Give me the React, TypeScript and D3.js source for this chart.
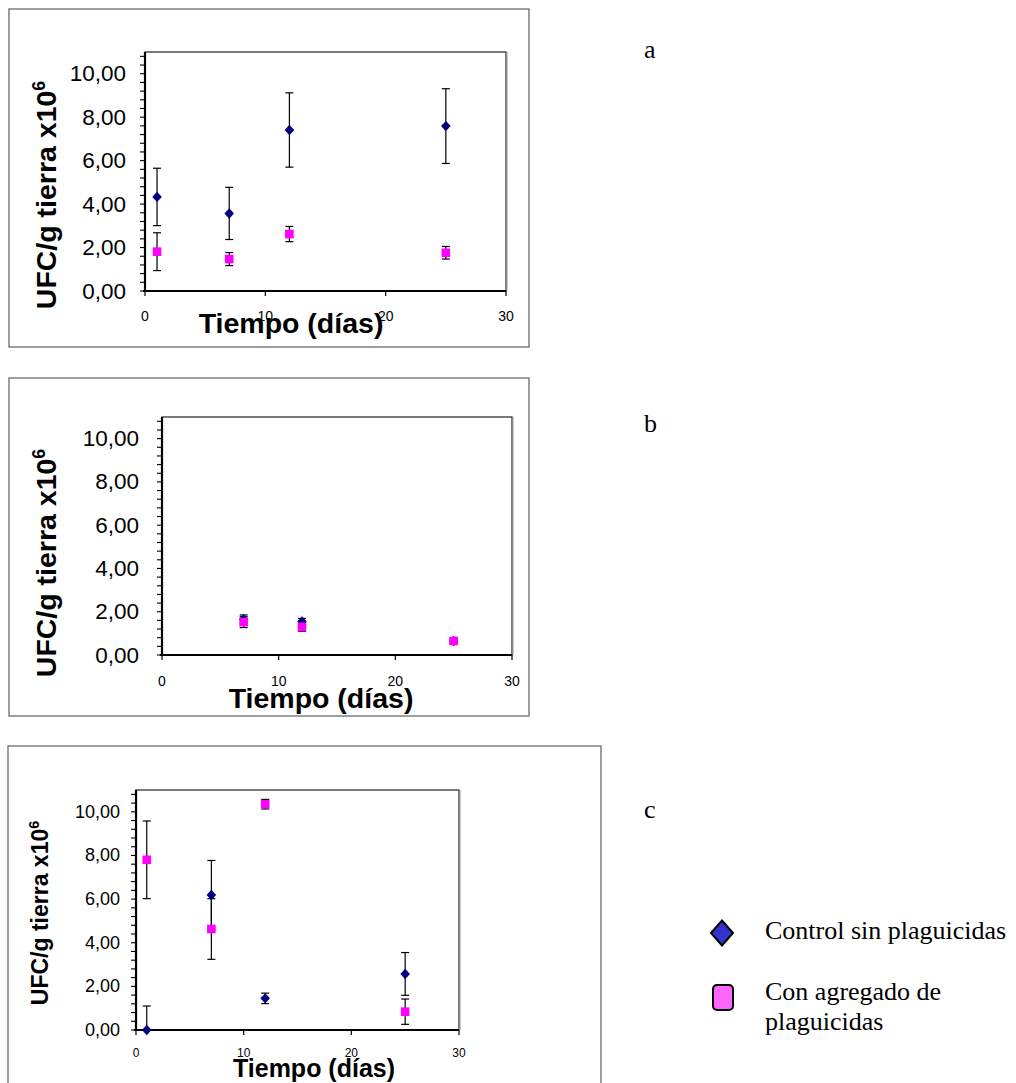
import React from "react";
import * as d3 from "d3";

// ---- data ----
const daysA = [1, 7, 12, 25];
const ctrlA = [4.33, 3.57, 7.41, 7.59];
const ctrlErrA = [1.32, 1.2, 1.71, 1.72];
const trtA = [1.81, 1.47, 2.62, 1.76];
const trtErrA = [0.87, 0.3, 0.35, 0.29];

const daysB = [7, 12, 25];
const ctrlB = [1.65, 1.55, 0.65];
const ctrlErrB = [0.2, 0.14, 0.08];
const trtB = [1.52, 1.3, 0.65];
const trtErrB = [0.25, 0.2, 0.1];

const daysC = [1, 7, 12, 25];
const ctrlC = [0, 6.19, 1.45, 2.57];
const ctrlErrC = [1.1, 1.58, 0.24, 0.98];
const trtC = [7.8, 4.63, 10.35, 0.84];
const trtErrC = [1.78, 1.39, 0.22, 0.58];

const xTickValues = [0, 10, 20, 30];
const yMajorTicks = [0, 2, 4, 6, 8, 10];
const yMinorStep = 0.4;
const yMax = 11;
const xMax = 30;

const panelLetters = ["a", "b", "c"];
const xTitle = "Tiempo (días)";
const yTitleMain = "UFC/g tierra x10";
const yTitleSup = "6";
const legendLabels = ["Control sin plaguicidas", ["Con agregado de", "plaguicidas"]];

const SANS = "'Liberation Sans', Arial, sans-serif";
const SERIF = "'Liberation Serif', 'Times New Roman', serif";
const fmt = (v: number) => d3.format(".2f")(v).replace(".", ",");

type PanelCfg = {
  outer: [number, number, number, number];
  plot: { l: number; t: number; r: number; b: number };
  yTickFont: number;
  yTickRight: number;
  xTickFont: number;
  xTickY: number;
  xTitleX: number;
  xTitleY: number;
  xTitleSize: number;
  yTitleX: number;
  yTitleY: number;
  yTitleSize: number;
  days: number[];
  ctrl: number[];
  ctrlErr: number[];
  trt: number[];
  trtErr: number[];
  letterY: number;
  letter: string;
};

function Panel({ c }: { c: PanelCfg }) {
  const { l, t, r, b } = c.plot;
  const x = d3.scaleLinear().domain([0, xMax]).range([l, r]);
  const y = d3.scaleLinear().domain([0, yMax]).range([b, t]);
  const minor = d3.range(0, yMax, yMinorStep);
  const clampY = (v: number) => y(Math.max(0, Math.min(yMax, v)));
  const cap = 4;
  const errBars = (vals: number[], errs: number[], key: string) =>
    c.days.map((d, i) => {
      const px = x(d);
      const y1 = clampY(vals[i] + errs[i]);
      const y0 = clampY(vals[i] - errs[i]);
      const lowVisible = vals[i] - errs[i] >= 0;
      return (
        <g key={key + i} stroke="#000" strokeWidth={1.2}>
          <line x1={px} x2={px} y1={y1} y2={y0} />
          <line x1={px - cap} x2={px + cap} y1={y1} y2={y1} />
          {lowVisible && <line x1={px - cap} x2={px + cap} y1={y0} y2={y0} />}
        </g>
      );
    });
  const [ox0, oy0, ox1, oy1] = c.outer;
  return (
    <g>
      <rect x={ox0} y={oy0} width={ox1 - ox0} height={oy1 - oy0} fill="#fff" stroke="#6a6a6a" strokeWidth={1.3} />
      <rect x={l} y={t} width={r - l} height={b - t} fill="#fff" stroke="#222" strokeWidth={1.2} />
      <line x1={r + 1} x2={r + 1} y1={t} y2={b} stroke="#999" strokeWidth={1} />
      {/* y ticks */}
      {minor.map((v) => (
        <line key={"m" + v} x1={l - 5} x2={l} y1={y(v)} y2={y(v)} stroke="#000" strokeWidth={1.1} />
      ))}
      {yMajorTicks.map((v) => (
        <text
          key={"yl" + v}
          x={c.yTickRight}
          y={y(v)}
          textAnchor="end"
          dominantBaseline="central"
          fontFamily={SANS}
          fontSize={c.yTickFont}
          fill="#000"
        >
          {fmt(v)}
        </text>
      ))}
      {/* x ticks */}
      {xTickValues.map((v) => (
        <g key={"xt" + v}>
          <line x1={x(v)} x2={x(v)} y1={b} y2={b + 5} stroke="#000" strokeWidth={1.2} />
          <text
            x={x(v)}
            y={c.xTickY}
            textAnchor="middle"
            dominantBaseline="central"
            fontFamily={SANS}
            fontSize={c.xTickFont}
            fill="#000"
          >
            {v}
          </text>
        </g>
      ))}
      {/* axes */}
      <line x1={l} x2={l} y1={t} y2={b + 1} stroke="#000" strokeWidth={2.2} />
      <line x1={l - 2} x2={r} y1={b} y2={b} stroke="#000" strokeWidth={2.2} />
      {/* error bars */}
      {errBars(c.ctrl, c.ctrlErr, "ce")}
      {errBars(c.trt, c.trtErr, "te")}
      {/* markers */}
      {c.days.map((d, i) => {
        const px = x(d);
        const py = y(c.ctrl[i]);
        const hw = 4.8;
        const hh = 5.2;
        return (
          <path
            key={"cm" + i}
            d={`M${px},${py - hh}L${px + hw},${py}L${px},${py + hh}L${px - hw},${py}Z`}
            fill="#000080"
          />
        );
      })}
      {c.days.map((d, i) => {
        const s = 8.6;
        return (
          <rect key={"tm" + i} x={x(d) - s / 2} y={y(c.trt[i]) - s / 2} width={s} height={s} fill="#ff00ff" />
        );
      })}
      {/* titles */}
      <text
        x={c.xTitleX}
        y={c.xTitleY}
        textAnchor="middle"
        fontFamily={SANS}
        fontWeight="bold"
        fontSize={c.xTitleSize}
        fill="#000"
      >
        {xTitle}
      </text>
      <text
        transform={`translate(${c.yTitleX},${c.yTitleY}) rotate(-90)`}
        textAnchor="middle"
        fontFamily={SANS}
        fontWeight="bold"
        fontSize={c.yTitleSize}
        fill="#000"
      >
        {yTitleMain}
        <tspan fontSize={c.yTitleSize * 0.62} dy={-c.yTitleSize * 0.38}>
          {yTitleSup}
        </tspan>
      </text>
      <text x={644} y={c.letterY} fontFamily={SERIF} fontSize={26} fill="#000">
        {c.letter}
      </text>
    </g>
  );
}

const panels: PanelCfg[] = [
  {
    outer: [9, 9, 529, 347],
    plot: { l: 145, t: 52, r: 506, b: 291 },
    yTickFont: 22.5,
    yTickRight: 126,
    xTickFont: 14,
    xTickY: 316,
    xTitleX: 291,
    xTitleY: 333,
    xTitleSize: 28.5,
    yTitleX: 56,
    yTitleY: 195,
    yTitleSize: 28.5,
    days: daysA,
    ctrl: ctrlA,
    ctrlErr: ctrlErrA,
    trt: trtA,
    trtErr: trtErrA,
    letterY: 58,
    letter: panelLetters[0],
  },
  {
    outer: [9, 378, 529, 716],
    plot: { l: 162, t: 417, r: 512, b: 655 },
    yTickFont: 22.5,
    yTickRight: 139,
    xTickFont: 14,
    xTickY: 681,
    xTitleX: 321,
    xTitleY: 708,
    xTitleSize: 28.5,
    yTitleX: 56,
    yTitleY: 563,
    yTitleSize: 28.5,
    days: daysB,
    ctrl: ctrlB,
    ctrlErr: ctrlErrB,
    trt: trtB,
    trtErr: trtErrB,
    letterY: 432,
    letter: panelLetters[1],
  },
  {
    outer: [8, 746, 601, 1110],
    plot: { l: 136, t: 790, r: 459, b: 1030 },
    yTickFont: 18,
    yTickRight: 120,
    xTickFont: 12,
    xTickY: 1053,
    xTitleX: 314,
    xTitleY: 1077,
    xTitleSize: 25,
    yTitleX: 48,
    yTitleY: 913,
    yTitleSize: 23,
    days: daysC,
    ctrl: ctrlC,
    ctrlErr: ctrlErrC,
    trt: trtC,
    trtErr: trtErrC,
    letterY: 818,
    letter: panelLetters[2],
  },
];

export default function App() {
  return (
    <svg
      width={1016}
      height={1083}
      style={{ position: "absolute", left: 0, top: 0, background: "#fff" }}
    >
      <rect x={0} y={0} width={1016} height={1083} fill="#fff" />
      {panels.map((p, i) => (
        <Panel key={i} c={p} />
      ))}
      {/* legend */}
      <path d="M722,920.5L733,933L722,945.5L711,933Z" fill="#3333cc" stroke="#000" strokeWidth={2} />
      <text x={765} y={939} fontFamily={SERIF} fontSize={26} fill="#000">
        {legendLabels[0] as string}
      </text>
      <rect x={713} y={985} width={20} height={25} rx={4} fill="#ff66ff" stroke="#000" strokeWidth={2} />
      <text fontFamily={SERIF} fontSize={26} fill="#000">
        <tspan x={765} y={1000}>{(legendLabels[1] as string[])[0]}</tspan>
        <tspan x={765} y={1030}>{(legendLabels[1] as string[])[1]}</tspan>
      </text>
    </svg>
  );
}
